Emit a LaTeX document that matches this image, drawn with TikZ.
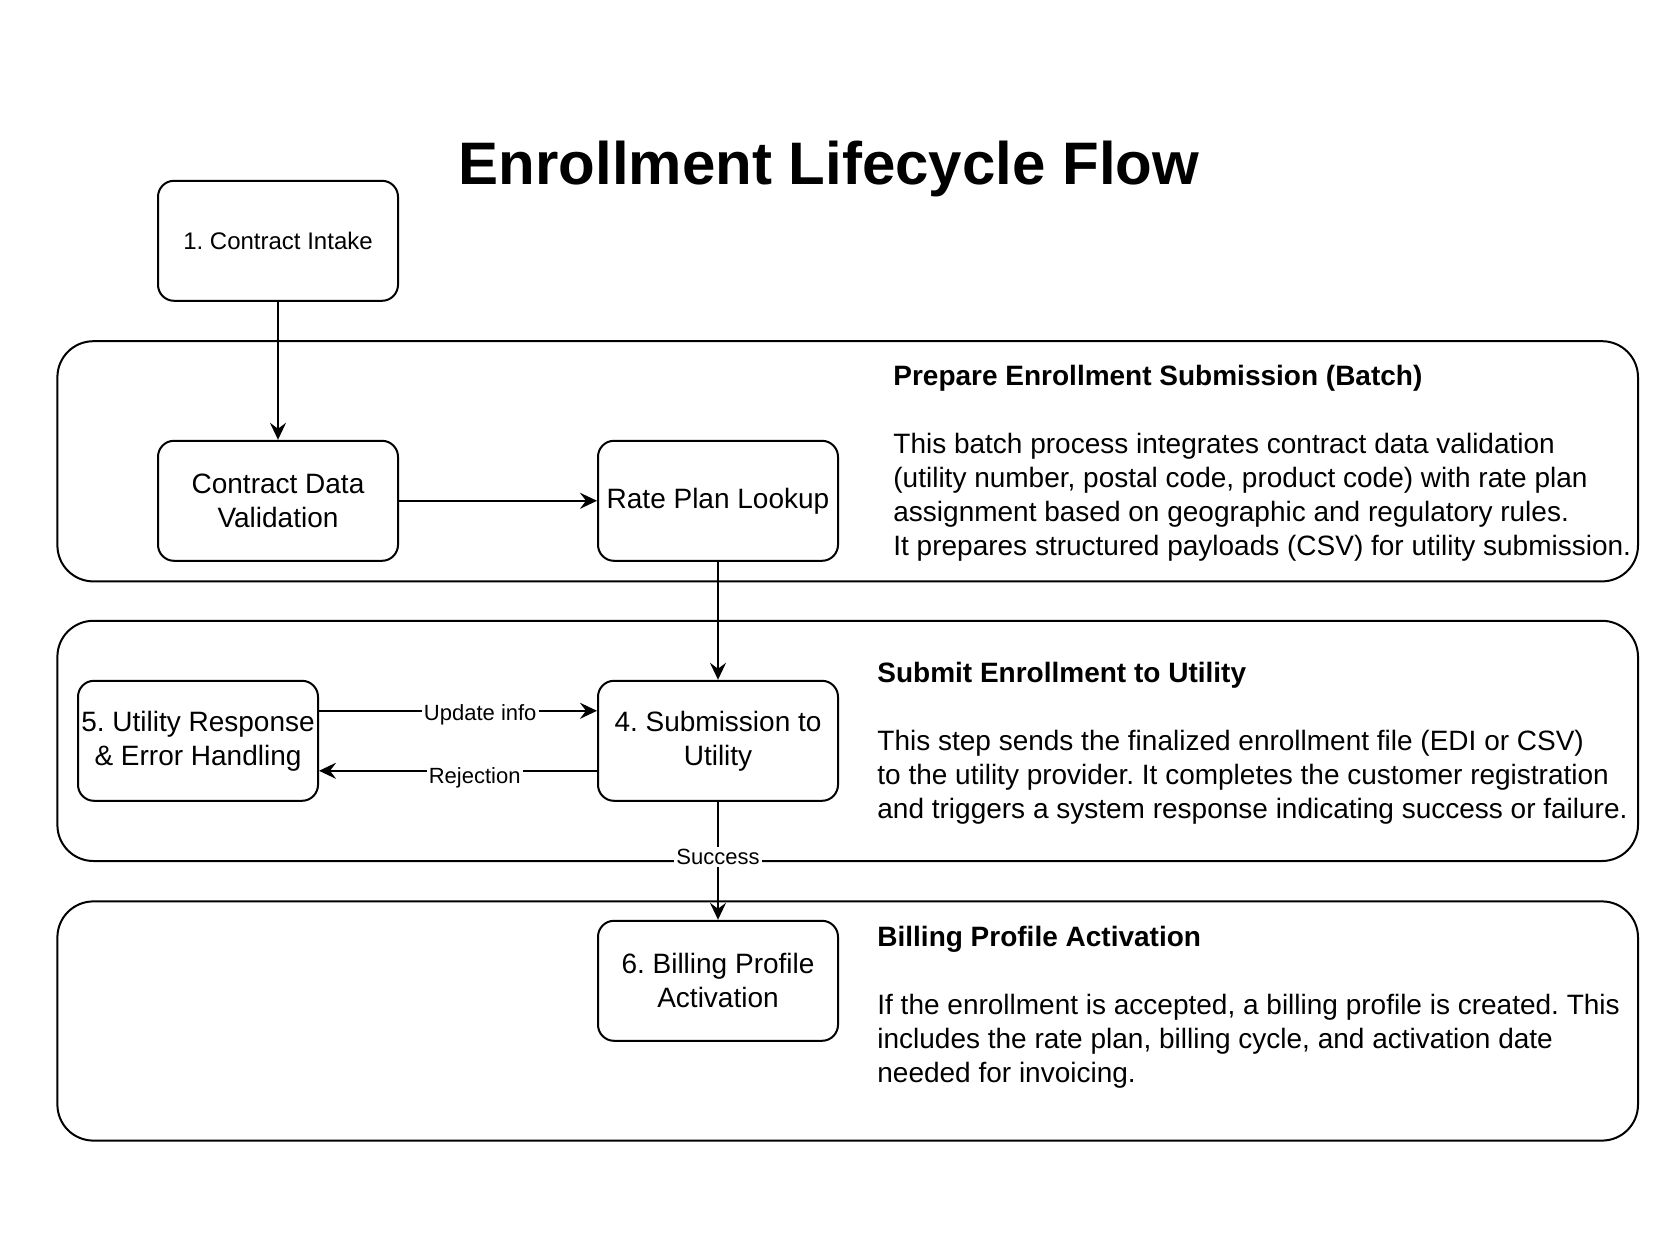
\documentclass[tikz,border=0pt]{standalone}
\usepackage{fontspec}
\setmainfont{Liberation Sans}
\frenchspacing
\usepackage{tikz}
\usetikzlibrary{arrows.meta, positioning}

\begin{document}
\begin{tikzpicture}[>={Stealth[length=8.5pt,width=8pt,inset=3pt]}, x=1pt, y=1pt, node distance=120pt, on grid,
	stepbox/.style={draw, line width=1pt, rounded corners=8pt, fill=white, minimum width=120pt, minimum height=60pt, inner sep=1pt, align=center, font=\fontsize{14}{17}\selectfont},
	lane/.style={draw, line width=1pt, rounded corners=18pt},
	note/.style={align=left, inner sep=0pt, anchor=base west, font=\fontsize{14}{17}\selectfont}]
				\useasboundingbox (0,0) rectangle (833,-628);
				
				\draw[lane] (28.7,-170.6) rectangle (819,-290.7);
				\draw[lane] (28.7,-310.4) rectangle (819,-430.5);
				\draw[lane] (28.7,-450.7) rectangle (819,-570.3);
				
				\node[font=\fontsize{30}{36}\selectfont\bfseries, anchor=base] (title) at (414.5,-92.5) {Enrollment Lifecycle Flow};
				
				\node[stepbox, font=\fontsize{12}{14}\selectfont] (S1) at (139,-120.4) {1. Contract Intake};
				\node[stepbox] (S2) [below=130pt of S1] {Contract Data\\Validation};
				\node[stepbox] (S3) [right=220pt of S2] {Rate Plan Lookup};
				\node[stepbox] (S4) [below =of S3] {4. Submission to\\Utility};
				\node[stepbox] (S5) [left=260pt of S4] {5. Utility Response\\\& Error Handling};
				\node[stepbox] (S6) [below =of S4] {6. Billing Profile\\Activation};
				
				% base = last line
				\node[note] (N1) at (446.5,-278) {\textbf{Prepare Enrollment Submission (Batch)}\\[17pt]
					This batch process integrates contract data validation\\
					(utility number, postal code, product code) with rate plan\\
					assignment based on geographic and regulatory rules.\\
					It prepares structured payloads (CSV) for utility submission.};
				\node[note] (N2) at (438.5,-409.3) {\textbf{Submit Enrollment to Utility}\\[17pt]
					This step sends the finalized enrollment file (EDI or CSV)\\
					to the utility provider. It completes the customer registration\\
					and triggers a system response indicating success or failure.};
				\node[note] (N3) at (438.5,-541.1) {\textbf{Billing Profile Activation}\\[17pt]
					If the enrollment is accepted, a billing profile is created. This\\
					includes the rate plan, billing cycle, and activation date\\
					needed for invoicing.};
				
				\tikzset{flow/.style={->, line width=1pt}}
				\tikzset{every node/.style={fill=white, inner sep=1pt, font=\fontsize{11}{13}\selectfont}}
				\path (S1) edge [flow] (S2);
				\path (S2) edge [flow] (S3);
				\path (S3) edge [flow] (S4);
				\path ([yshift=15pt]S5.east) edge [flow] node[pos=0.58, yshift=-2pt] {Update info} ([yshift=15pt]S4.west);
				\path ([yshift=-15pt]S4.west) edge [flow] node[pos=0.44, yshift=-3.5pt] {Rejection} ([yshift=-15pt]S5.east);
				\path (S4) edge [flow] node[pos=0.47] {Success} (S6);
			\end{tikzpicture}
\end{document}
